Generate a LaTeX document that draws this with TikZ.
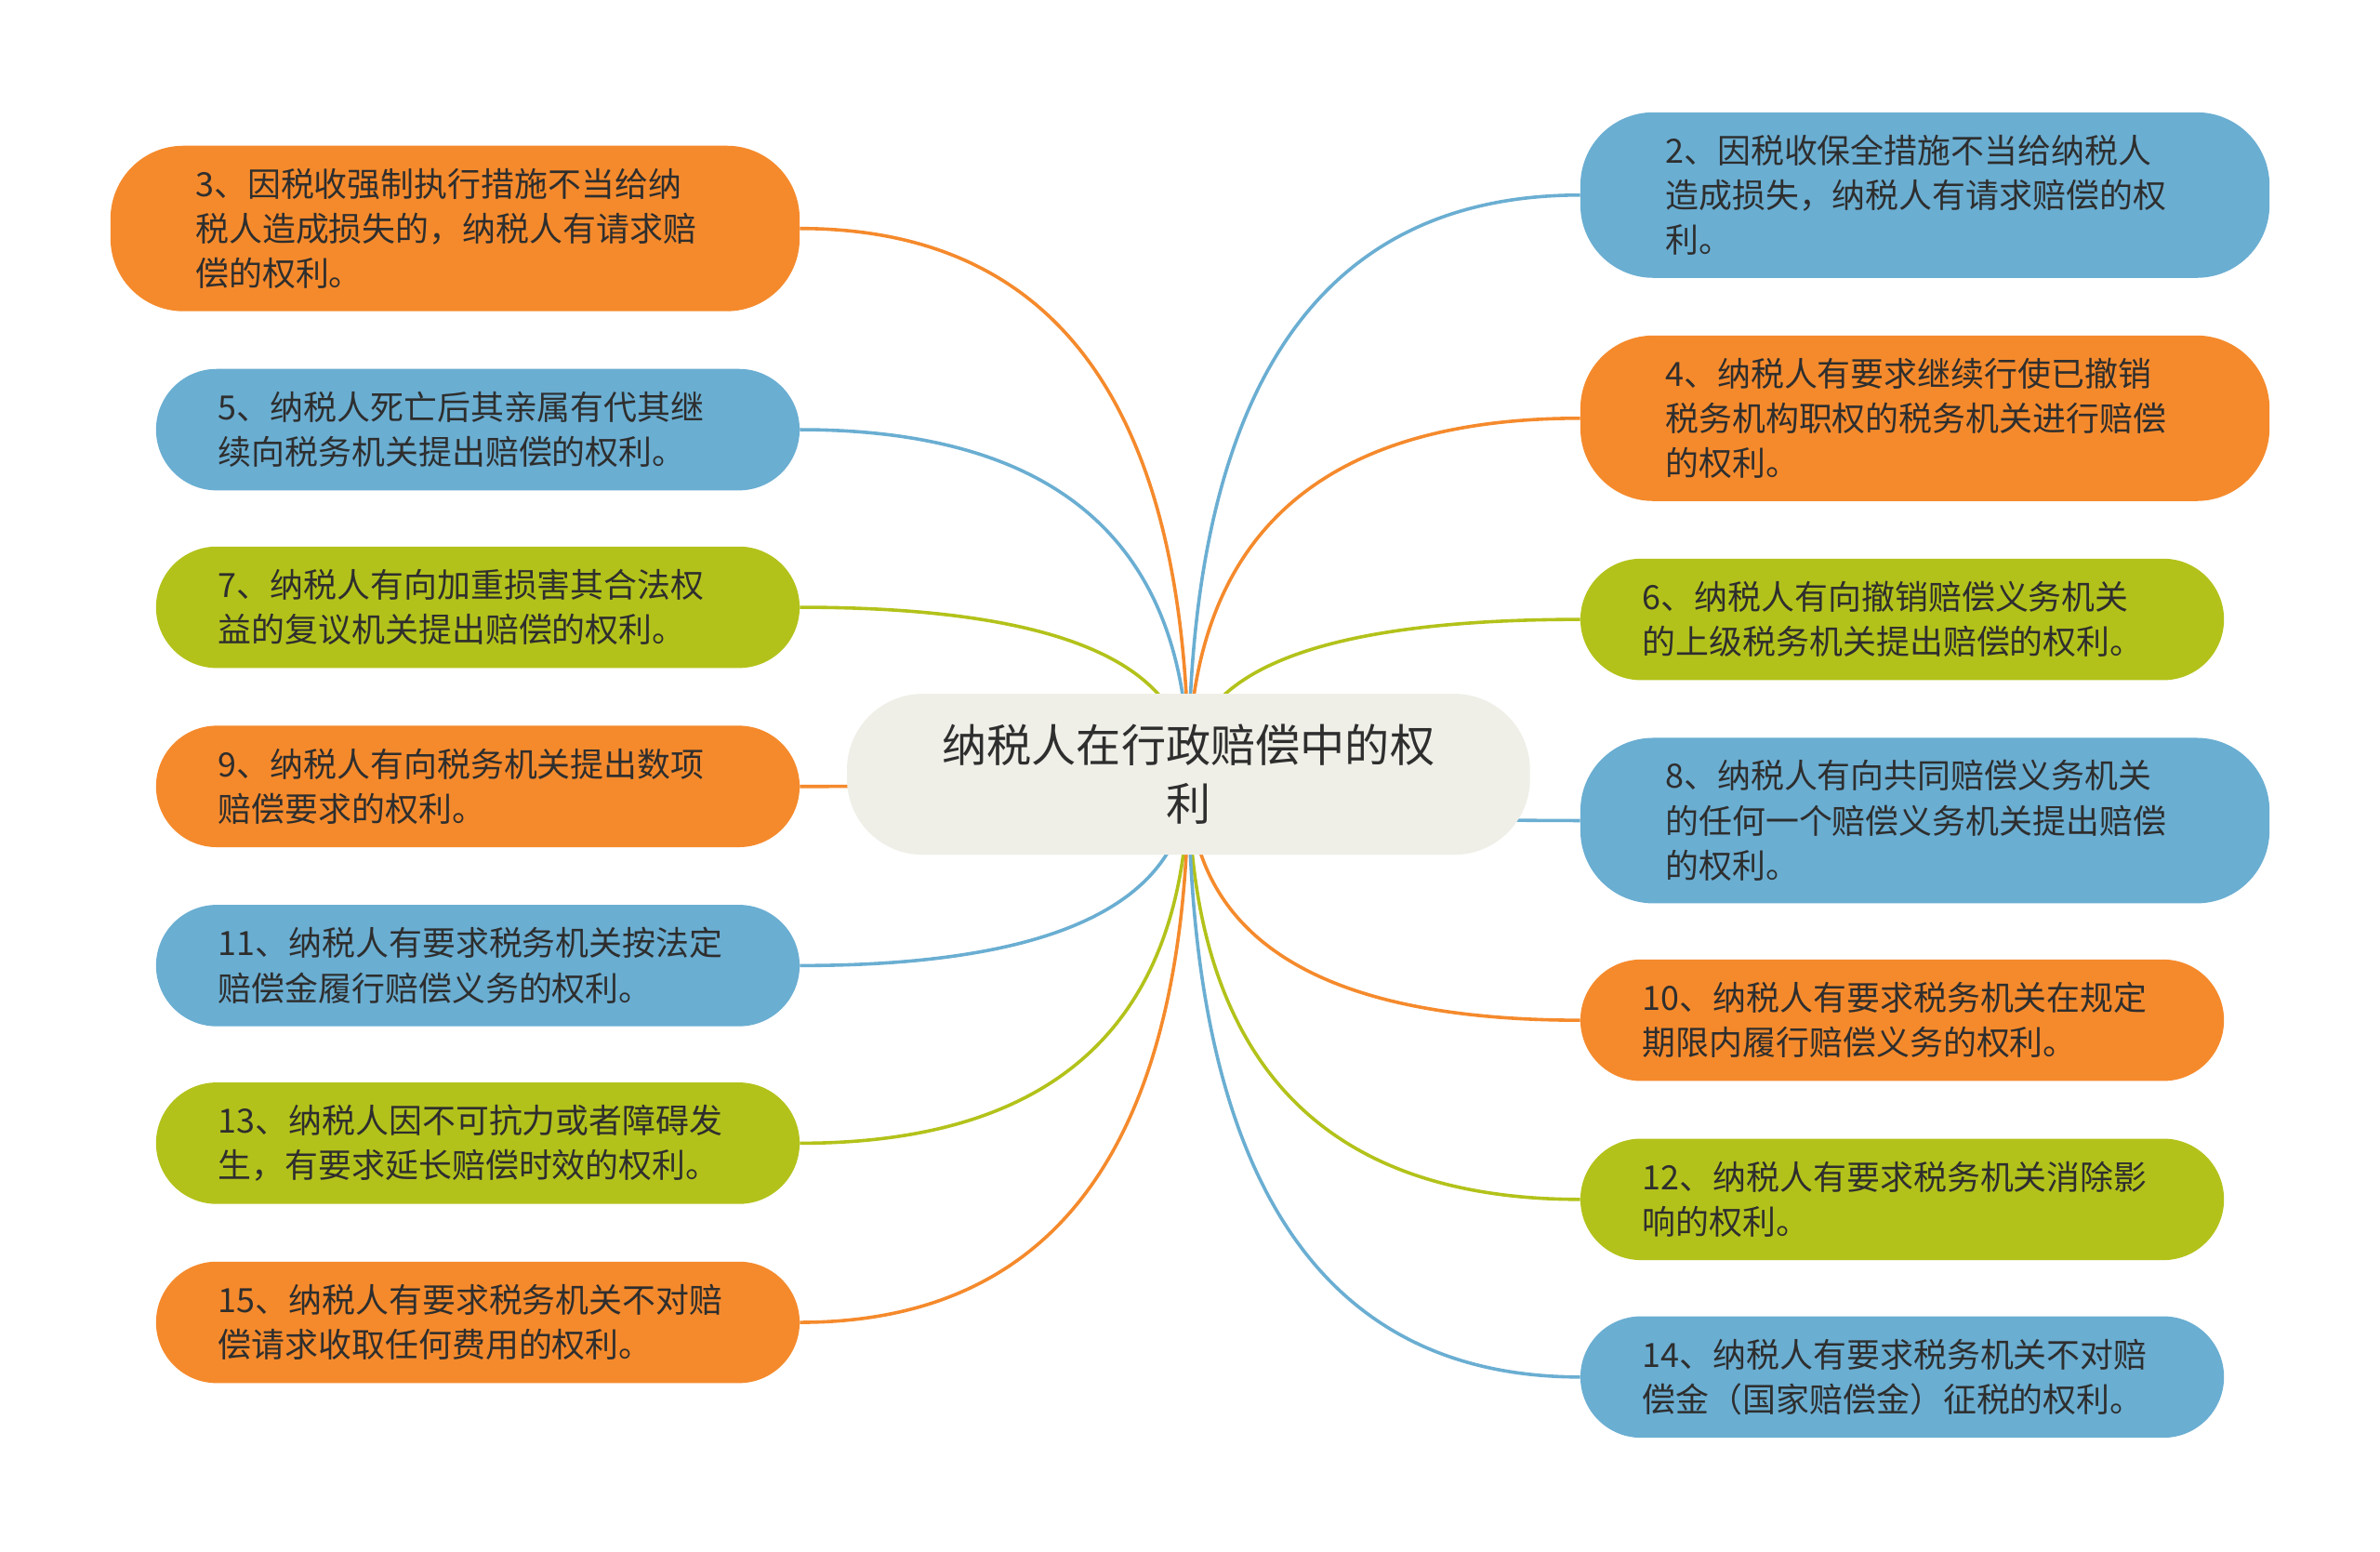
\documentclass[tikz,border=0pt]{standalone}
\usepackage{fontspec}
\newfontfamily\cjk{Noto Sans CJK SC}
\usepackage{tikz}
\usetikzlibrary{calc, backgrounds}

\definecolor{brorange}{HTML}{F58A2C}
\definecolor{brblue}{HTML}{6AAED2}
\definecolor{brgreen}{HTML}{B3C21A}
\definecolor{topicfill}{HTML}{EFEFE8}
\definecolor{textgray}{HTML}{2E2E2E}

\begin{document}
\begin{tikzpicture}[x=1pt, y=-1pt,
                topic/.style={fill=topicfill, rounded corners=50pt, minimum width=450pt, minimum height=106pt, align=center, text=textgray, font=\cjk\fontsize{29.5}{39}\selectfont},
                branch/.style={rounded corners=40pt, minimum height=80pt, inner xsep=41pt, text width=342pt, align=left, text=textgray, font=\cjk\fontsize{22}{29.5}\selectfont},
                bigbranch/.style={branch, minimum height=109pt, inner xsep=56pt, rounded corners=48pt},
                edge/.style={line width=2.2pt},
                mindlink/.style={to path={.. controls ($(\tikztostart)!2/3!(\tikztostart |- \tikztotarget)$) and ($(\tikztotarget)!2/3!(\tikztostart |- \tikztotarget)$) .. (\tikztotarget)}}
            ]

            \useasboundingbox (0,0) rectangle (1568,1022);

            % Zentrum
            \node[topic] (C) at (783,510) {纳税人在行政赔偿中的权\\利};

            % linke Seite
            \node[bigbranch, fill=brorange, anchor=east] (n3) at (527,150.5) {3、因税收强制执行措施不当给纳\\税人造成损失的，纳税人有请求赔\\偿的权利。};
            \node[branch, fill=brblue, anchor=east] (n5) at (527,283) {5、纳税人死亡后其亲属有代其继\\续向税务机关提出赔偿的权利。};
            \node[branch, fill=brgreen, anchor=east] (n7) at (527,400) {7、纳税人有向加重损害其合法权\\益的复议机关提出赔偿的权利。};
            \node[branch, fill=brorange, anchor=east] (n9) at (527,518) {9、纳税人有向税务机关提出数项\\赔偿要求的权利。};
            \node[branch, fill=brblue, anchor=east] (n11) at (527,636) {11、纳税人有要求税务机关按法定\\赔偿金履行赔偿义务的权利。};
            \node[branch, fill=brgreen, anchor=east] (n13) at (527,753) {13、纳税人因不可抗力或者障碍发\\生，有要求延长赔偿时效的权利。};
            \node[branch, fill=brorange, anchor=east] (n15) at (527,871) {15、纳税人有要求税务机关不对赔\\偿请求收取任何费用的权利。};

            % rechte Seite
            \node[bigbranch, fill=brblue, anchor=west] (n2) at (1041,128.5) {2、因税收保全措施不当给纳税人\\造成损失，纳税人有请求赔偿的权\\利。};
            \node[bigbranch, fill=brorange, anchor=west] (n4) at (1041,275.5) {4、纳税人有要求继续行使已撤销\\税务机构职权的税务机关进行赔偿\\的权利。};
            \node[branch, fill=brgreen, anchor=west] (n6) at (1041,408) {6、纳税人有向撤销赔偿义务机关\\的上级税务机关提出赔偿的权利。};
            \node[bigbranch, fill=brblue, anchor=west] (n8) at (1041,540.5) {8、纳税人有向共同赔偿义务机关\\的任何一个赔偿义务机关提出赔偿\\的权利。};
            \node[branch, fill=brorange, anchor=west] (n10) at (1041,672) {10、纳税人有要求税务机关在规定\\期限内履行赔偿义务的权利。};
            \node[branch, fill=brgreen, anchor=west] (n12) at (1041,790) {12、纳税人有要求税务机关消除影\\响的权利。};
            \node[branch, fill=brblue, anchor=west] (n14) at (1041,907) {14、纳税人有要求税务机关不对赔\\偿金（国家赔偿金）征税的权利。};

            % Kanten
            \begin{scope}[on background layer]
                \fill[white] (0,0) rectangle (1568,1022);
                \draw[edge, brorange] (C.center) to[mindlink] (n3.east);
                \draw[edge, brblue] (C.center) to[mindlink] (n5.east);
                \draw[edge, brgreen] (C.center) to[mindlink] (n7.east);
                \draw[edge, brorange] (C.center) to[mindlink] (n9.east);
                \draw[edge, brblue] (C.center) to[mindlink] (n11.east);
                \draw[edge, brgreen] (C.center) to[mindlink] (n13.east);
                \draw[edge, brorange] (C.center) to[mindlink] (n15.east);
                \draw[edge, brblue] (C.center) to[mindlink] (n2.west);
                \draw[edge, brorange] (C.center) to[mindlink] (n4.west);
                \draw[edge, brgreen] (C.center) to[mindlink] (n6.west);
                \draw[edge, brblue] (C.center) to[mindlink] (n8.west);
                \draw[edge, brorange] (C.center) to[mindlink] (n10.west);
                \draw[edge, brgreen] (C.center) to[mindlink] (n12.west);
                \draw[edge, brblue] (C.center) to[mindlink] (n14.west);
            \end{scope}

        \end{tikzpicture}
\end{document}
